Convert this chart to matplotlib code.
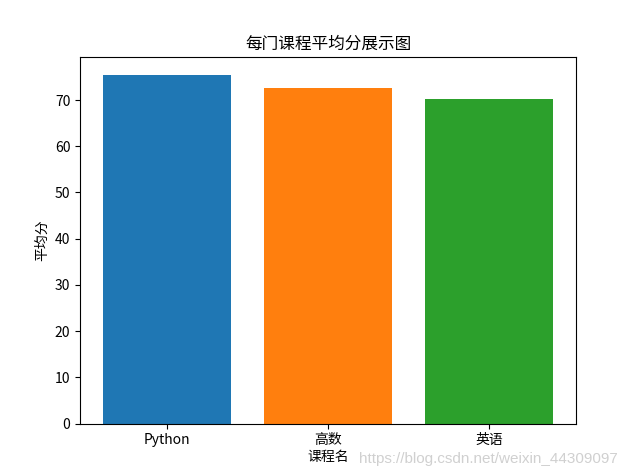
import matplotlib
matplotlib.use("Agg")
import matplotlib.pyplot as plt

plt.rcParams['font.family'] = ['Noto Sans CJK SC', 'DejaVu Sans']
plt.rcParams['axes.unicode_minus'] = False

## 课程与平均分
courses = ['Python', '高数', '英语']
avg_scores = [75.5, 72.7, 70.3]
colors = ['#1f77b4', '#ff7f0e', '#2ca02c']

fig = plt.figure(figsize=(6.4, 4.76), dpi=100)
ax = fig.add_subplot(111)
ax.bar(courses, avg_scores, color=colors)
ax.set_title('每门课程平均分展示图')
ax.set_xlabel('课程名', labelpad=2)
ax.set_ylabel('平均分')

## 水印
fig.text(0.966, 0.02, 'https://blog.csdn.net/weixin_44309097', ha='right', va='bottom',
         color='#d0d0d0', fontsize=11, family='Liberation Sans')

fig.savefig('out.png', dpi=100)
